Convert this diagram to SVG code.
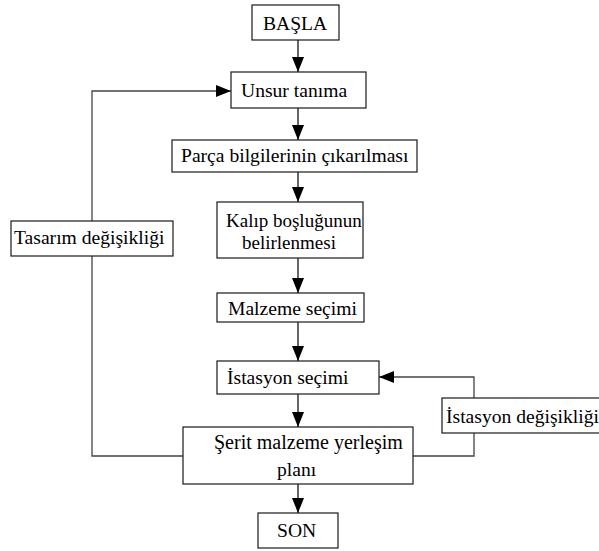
<svg xmlns="http://www.w3.org/2000/svg" width="599" height="551" viewBox="0 0 599 551">
  <style>
    .box { fill: #ffffff; stroke: #1a1a1a; stroke-width: 1.2; }
    .t { font-family: "Liberation Serif", "Times New Roman", serif; font-size: 19.6px; fill: #000; }
    .flow { fill: none; stroke: #000; stroke-width: 1.2; }
    .loop { fill: none; stroke: #444; stroke-width: 1.3; }
  </style>
  <defs>
    <marker id="ah" markerUnits="userSpaceOnUse" markerWidth="15" markerHeight="12" refX="15" refY="6" orient="auto">
      <path d="M0,0 L15,6 L0,12 z" fill="#000"/>
    </marker>
  </defs>
  <rect width="599" height="551" fill="#fff"/>
  <g id="connectors">
    <path class="flow" d="M298,40 V72" marker-end="url(#ah)"/>
    <path class="flow" d="M298,108 V140" marker-end="url(#ah)"/>
    <path class="flow" d="M298,172 V202" marker-end="url(#ah)"/>
    <path class="flow" d="M298,258 V293" marker-end="url(#ah)"/>
    <path class="flow" d="M298,322 V361" marker-end="url(#ah)"/>
    <path class="flow" d="M298,394 V427" marker-end="url(#ah)"/>
    <path class="flow" d="M298,484 V513" marker-end="url(#ah)"/>
    <path class="loop" d="M183,456 H92 V256"/>
    <path class="loop" d="M92,221 V91 H231" marker-end="url(#ah)"/>
    <path class="loop" d="M413,456 H474 V433"/>
    <path class="loop" d="M474,398 V377 H379" marker-end="url(#ah)"/>
  </g>
  <g id="basla">
    <rect class="box" x="252" y="5" width="87" height="35"/>
    <text class="t" x="263" y="29.5">BAŞLA</text>
  </g>
  <g id="unsur">
    <rect class="box" x="231" y="72" width="135" height="36"/>
    <text class="t" x="241" y="97">Unsur tanıma</text>
  </g>
  <g id="parca">
    <rect class="box" x="172" y="140" width="245" height="32"/>
    <text class="t" x="181" y="162">Parça bilgilerinin çıkarılması</text>
  </g>
  <g id="kalip">
    <rect class="box" x="217" y="202" width="146" height="56"/>
    <text class="t" x="226" y="227" style="font-size:19px">Kalıp boşluğunun</text>
    <text class="t" x="242" y="249" style="font-size:19px">belirlenmesi</text>
  </g>
  <g id="malzeme">
    <rect class="box" x="217" y="293" width="147" height="29"/>
    <text class="t" x="228" y="315">Malzeme seçimi</text>
  </g>
  <g id="istasyon">
    <rect class="box" x="217" y="361" width="162" height="33"/>
    <text class="t" x="227" y="383.5">İstasyon seçimi</text>
  </g>
  <g id="serit">
    <rect class="box" x="183" y="427" width="230" height="57"/>
    <text class="t" x="214" y="449" style="font-size:20px">Şerit malzeme yerleşim</text>
    <text class="t" x="277" y="476">planı</text>
  </g>
  <g id="son">
    <rect class="box" x="258" y="513" width="80" height="35"/>
    <text class="t" x="277" y="537">SON</text>
  </g>
  <g id="tasarim">
    <rect class="box" x="11" y="221" width="162" height="35"/>
    <text class="t" x="14" y="243.5">Tasarım değişikliği</text>
  </g>
  <g id="istasyon-degisikligi">
    <rect class="box" x="442" y="398" width="180" height="35"/>
    <text class="t" x="446" y="422.5">İstasyon değişikliği</text>
  </g>
</svg>
